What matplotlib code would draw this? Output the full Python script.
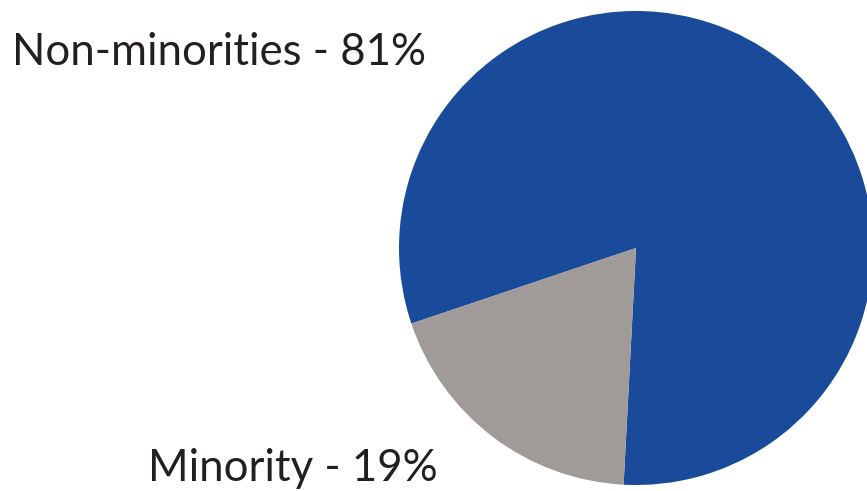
import matplotlib
matplotlib.use('Agg')
import matplotlib.pyplot as plt

# Share of respondents
labels = ['Non-minorities', 'Minority']
values = [81, 19]

COLOR_BLUE = '#1a4a9a'
COLOR_GRAY = '#a09b99'
COLOR_TEXT = '#231f20'

plt.rcParams['font.family'] = ['Lato', 'DejaVu Sans']

W, H = 867, 491
fig = plt.figure(figsize=(W / 100, H / 100), dpi=100)

# pie circle: centre (636, 248) px from top-left, radius 237 px
cx, cy, r = 636, H - 248, 237
ax = fig.add_axes([(cx - r) / W, (cy - r) / H, 2 * r / W, 2 * r / H])
wedges, _ = ax.pie(values, colors=[COLOR_BLUE, COLOR_GRAY], startangle=267,
                   counterclock=True, radius=1.0,
                   wedgeprops=dict(linewidth=0, antialiased=True))
for w in wedges:
    w.set_clip_on(False)
ax.set_xlim(-1, 1)
ax.set_ylim(-1, 1)
ax.set_aspect('equal')
ax.axis('off')

# labels, positioned by baseline in pixels
fig.text(12 / W, (H - 65) / H, f'{labels[0]} - {values[0]}%', fontsize=31.5,
         color=COLOR_TEXT, ha='left', va='baseline')
fig.text(148 / W, (H - 481) / H, f'{labels[1]} - {values[1]}%', fontsize=31.5,
         color=COLOR_TEXT, ha='left', va='baseline')

fig.savefig('out.png', dpi=100, facecolor='white')
